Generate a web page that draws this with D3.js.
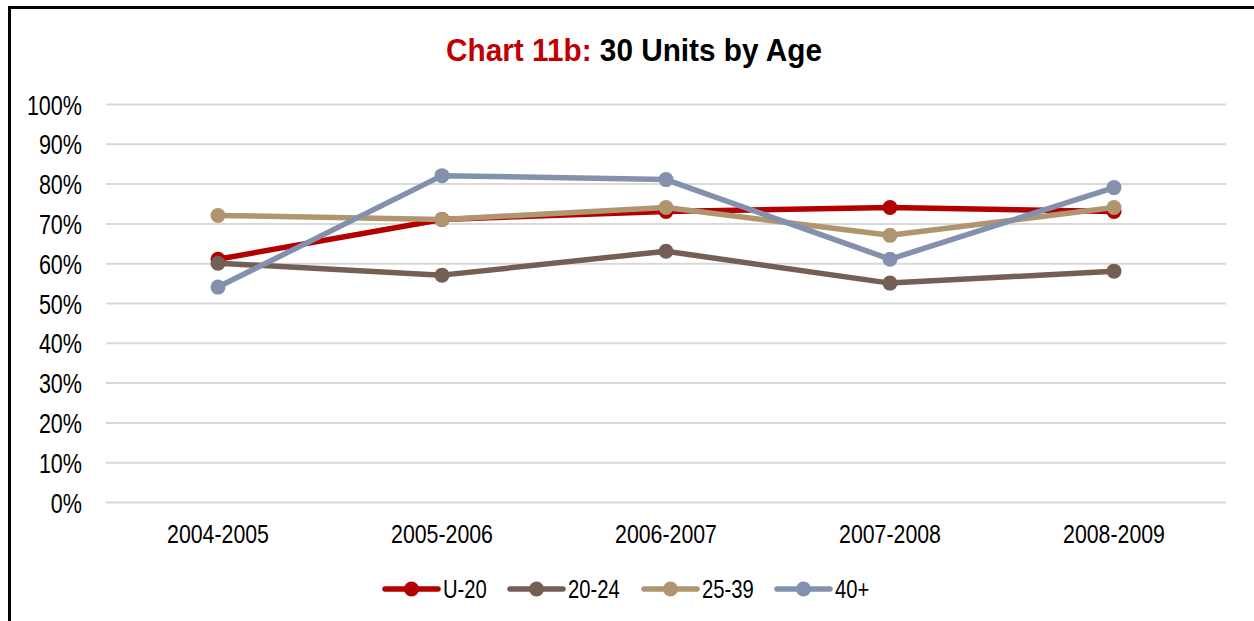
<!DOCTYPE html>
<html lang="en">
<head>
  <meta charset="UTF-8">
  <style>
    body {
      margin: 0;
      background: #fff;
    }
    svg text {
      font-family: "Liberation Sans Narrow", "Arial Narrow", "Liberation Sans", sans-serif;
      fill: #000;
    }
    /* gridlines only, no axis path */
    .grid path {
      display: none;
    }
    .grid .tick line {
      stroke: #d9d9d9;
      stroke-width: 2;
    }
    .axis path, .axis line {
      display: none;
    }
    .fn {
      fill: none;
      stroke-width: 5.5;
      stroke-linejoin: round;
      stroke-linecap: round;
    }
  </style>
</head>
<body>
  <svg id="chart" width="1254" height="621"></svg>
  <script src="https://cdnjs.cloudflare.com/ajax/libs/d3/7.8.5/d3.min.js"></script>
  <script>
    // chart values
    const years = ['2004-2005', '2005-2006', '2006-2007', '2007-2008', '2008-2009']
    const seriesNames = ['U-20', '20-24', '25-39', '40+']
    const u20 = [61, 71, 73, 74, 73]
    const age2024 = [60, 57, 63, 55, 58]
    const age2539 = [72, 71, 74, 67, 74]
    const age40 = [54, 82, 81, 61, 79]
    const yTicks = [0, 10, 20, 30, 40, 50, 60, 70, 80, 90, 100]
    const colors = ['#b30000', '#745f54', '#af9670', '#8391ad']

    const seriesValues = [u20, age2024, age2539, age40]
    const series = seriesNames.map((name, i) => ({
      name: name,
      color: colors[i],
      values: seriesValues[i].map((v, j) => ({ x: years[j], y: v }))
    }))

    const plot = { left: 106, right: 1226, top: 104, bottom: 502 }

    const xScale = d3.scaleBand()
      .domain(years)
      .range([plot.left, plot.right])
    const yScale = d3.scaleLinear()
      .domain([0, 100])
      .range([plot.bottom, plot.top])

    const svg = d3.select('#chart')

    // outer frame
    svg.append('path')
        .attr('d', 'M9.5,700 L9.5,7.5 L1300,7.5')
        .attr('fill', 'none')
        .attr('stroke', '#000')
        .attr('stroke-width', 3)

    // Title (no narrow font installed, so squeeze it horizontally)
    // =====
    const title = svg.append('g')
        .attr('transform', 'translate(634, 61) scale(0.93, 1)')
      .append('text')
        .attr('text-anchor', 'middle')
        .style('font-size', '32px')
        .style('font-weight', 'bold')
    title.append('tspan').style('fill', '#c00000').text('Chart 11b: ')
    title.append('tspan').text('30 Units by Age')

    // Grid
    // ====
    svg.append('g')
        .attr('class', 'grid')
        .attr('transform', `translate(${plot.left}, 0)`)
        .call(d3.axisLeft(yScale)
          .tickValues(yTicks)
          .tickSize(-(plot.right - plot.left))
          .tickFormat(''))

    // y labels
    const yLabelScale = 0.77
    svg.append('g')
        .attr('class', 'axis')
        .attr('transform', `translate(${plot.left}, 0)`)
        .call(d3.axisLeft(yScale)
          .tickValues(yTicks)
          .tickSize(0)
          .tickFormat(d => d + '%'))
      .selectAll('text')
        .style('font-size', '28px')
        .attr('x', -24 / yLabelScale)
        .attr('dy', '0.36em')
        .attr('transform', `scale(${yLabelScale}, 1)`)

    // x labels
    svg.append('g')
        .attr('class', 'axis')
        .attr('transform', `translate(0, ${plot.bottom})`)
        .call(d3.axisBottom(xScale)
          .tickSize(0))
      .selectAll('text')
        .style('font-size', '26px')
        .attr('y', 41)
        .attr('dy', 0)
        .attr('transform', 'scale(0.82, 1)')

    // Lines
    // =====
    const line = d3.line()
      .x(d => xScale(d.x) + xScale.bandwidth() / 2)
      .y(d => yScale(d.y))

    const groups = svg.append('g')
      .selectAll('g')
        .data(series)
      .enter().append('g')

    groups.append('path')
        .attr('class', 'fn')
        .attr('stroke', d => d.color)
        .attr('d', d => line(d.values))

    groups.selectAll('circle')
        .data(d => d.values.map(v => ({ ...v, color: d.color })))
      .enter().append('circle')
        .attr('cx', d => xScale(d.x) + xScale.bandwidth() / 2)
        .attr('cy', d => yScale(d.y))
        .attr('r', 7.5)
        .attr('fill', d => d.color)

    // Legend
    // ======
    const legendX = [385, 510, 644, 777]
    const legend = svg.append('g')
      .selectAll('g')
        .data(series)
      .enter().append('g')
        .attr('transform', (d, i) => `translate(${legendX[i]}, 589)`)
    legend.append('line')
        .attr('x1', 0).attr('x2', 53)
        .attr('stroke', d => d.color)
        .attr('stroke-width', 5.5)
        .attr('stroke-linecap', 'round')
    legend.append('circle')
        .attr('cx', 26.5)
        .attr('r', 7.5)
        .attr('fill', d => d.color)
    legend.append('text')
        .attr('transform', 'translate(58, 9) scale(0.81, 1)')
        .style('font-size', '25px')
        .text(d => d.name)
  </script>
</body>
</html>
